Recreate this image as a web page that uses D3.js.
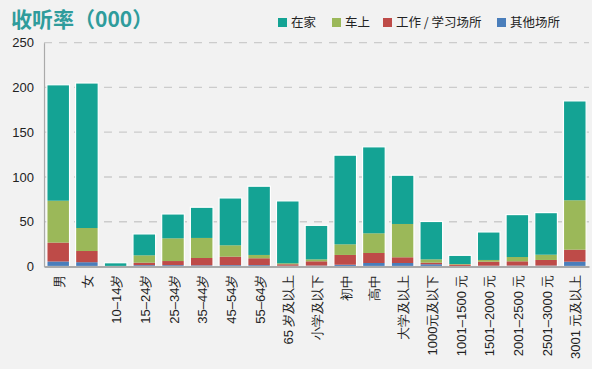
<!DOCTYPE html>
<html><head><meta charset="utf-8">
<script src="https://cdn.jsdelivr.net/npm/d3@7"></script>
<style>
html,body{margin:0;padding:0;background:#fff;}
svg{display:block;font-family:"Liberation Sans","Noto Sans CJK SC",sans-serif;}
</style></head>
<body><svg id="c" width="600" height="369"></svg>
<script>
const categories = ["男","女","10–14岁","15–24岁","25–34岁","35–44岁","45–54岁","55–64岁","65 岁及以上","小学及以下","初中","高中","大学及以上","1000元及以下","1001–1500 元","1501–2000 元","2001–2500 元","2501–3000 元","3001 元及以上"];
const seriesNames = ["其他场所","工作 / 学习场所","车上","在家"];
// values per category (stack from bottom)
const other = [5.6, 4.8, 0, 1.5, 1.5, 1.3, 1.5, 1.5, 0.8, 1, 2, 3.9, 3.9, 2.5, 0.4, 0.8, 1, 1, 5.4];
const work  = [21.1, 12.5, 0, 2.8, 4.6, 8.2, 9.5, 7.7, 1.7, 4.8, 10.9, 11.2, 6.4, 1.8, 1.8, 4.6, 4.8, 6.3, 13.4];
const car   = [46.8, 25.7, 0.3, 8.2, 25.4, 22.4, 12.7, 3.7, 1.1, 2.2, 11.9, 22, 37.2, 3.7, 0.6, 1.9, 4.8, 5.9, 55.2];
const home  = [129.5, 162, 3.9, 23.9, 27.2, 34.3, 52.9, 76.8, 69.7, 38, 99.6, 96.6, 54.5, 42.3, 9.7, 31.3, 47.4, 47, 111];
const yTicks = [0, 50, 100, 150, 200, 250];
const title = "收听率（000）";
const legendNames = ["在家","车上","工作 / 学习场所","其他场所"];
const colors = {"在家":"#14a394","车上":"#9bb859","工作 / 学习场所":"#be4b48","其他场所":"#4a7ebb"};

const svg = d3.select("#c");
svg.append("rect").attr("x",0).attr("y",0).attr("width",592).attr("height",369).attr("fill","#f2f2f2");

const x0 = 44, x1 = 589, yBottom = 266.5, yTop = 42.7;
const x = d3.scaleBand().domain(categories).range([x0, x1]).paddingInner(0.21).paddingOuter(0.1);
const y = d3.scaleLinear().domain([0, 250]).range([yBottom, yTop]);

// gridlines
svg.append("g").selectAll("line").data(yTicks.filter(d=>d>0)).join("line")
  .attr("x1", x0).attr("x2", x1).attr("y1", d=>y(d)).attr("y2", d=>y(d))
  .attr("stroke","#cccccc").attr("stroke-width",1.3).attr("stroke-dasharray","8,7");

// y axis
const yAxis = d3.axisLeft(y).tickValues(yTicks).tickSize(0).tickPadding(10);
const gy = svg.append("g").attr("transform",`translate(${x0},0)`).call(yAxis);
gy.select(".domain").attr("stroke","#aaaaaa").attr("stroke-width",1.2);
gy.selectAll("text").attr("font-size",13).attr("fill","#222").attr("font-family","Liberation Sans, Arial, sans-serif");

// stacked data
const rows = categories.map((c,i)=>({cat:c,"其他场所":other[i],"工作 / 学习场所":work[i],"车上":car[i],"在家":home[i]}));
const stack = d3.stack().keys(seriesNames)(rows);
svg.append("g").selectAll("g").data(stack).join("g").attr("fill", d=>colors[d.key])
  .selectAll("rect").data(d=>d).join("rect")
  .attr("x", d=>x(d.data.cat)).attr("width", x.bandwidth())
  .attr("y", d=>y(d[1])).attr("height", d=>Math.max(0, y(d[0])-y(d[1])));
// white outlines around full bars
svg.append("g").selectAll("rect").data(rows).join("rect")
  .attr("x", d=>x(d.cat)).attr("width", x.bandwidth())
  .attr("y", (d,i)=>y(other[i]+work[i]+car[i]+home[i]))
  .attr("height", (d,i)=>yBottom - y(other[i]+work[i]+car[i]+home[i]))
  .attr("fill","none").attr("stroke","#fff").attr("stroke-width",1.2);

// x axis
const xAxis = d3.axisBottom(x).tickSize(0).tickPadding(0);
const gx = svg.append("g").attr("transform",`translate(0,${yBottom})`).call(xAxis);
gx.select(".domain").attr("stroke","#aaaaaa").attr("stroke-width",2);
gx.selectAll("text").attr("font-size",13).attr("fill","#222")
  .attr("transform","rotate(-90)").attr("text-anchor","end")
  .attr("x",-8).attr("y",1).attr("dy","0.35em");

// title
svg.append("text").attr("x",11).attr("y",27).text(title)
  .attr("font-size",21).attr("font-weight","bold").attr("fill","#2f9c9c")
  .attr("font-family","Noto Sans CJK SC, sans-serif");

// legend
const legX = [278, 332, 383, 497];
const lg = svg.append("g").selectAll("g").data(legendNames).join("g")
  .attr("transform",(d,i)=>`translate(${legX[i]},18)`);
lg.append("rect").attr("width",9).attr("height",9).attr("fill",d=>colors[d]);
lg.append("text").attr("x",13).attr("y",9).text(d=>d).attr("font-size",12.5).attr("fill","#222")
  .attr("font-family","Noto Sans CJK SC, sans-serif");
</script></body></html>
